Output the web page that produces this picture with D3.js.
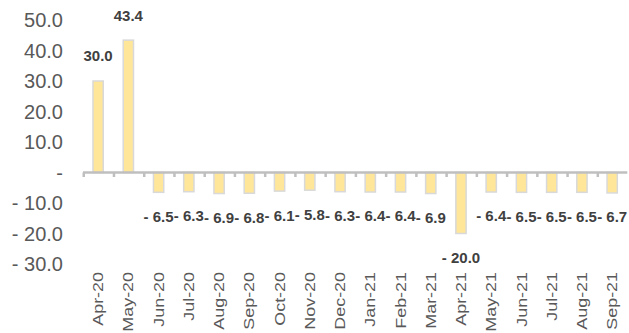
<!DOCTYPE html>
<html>
<head>
<meta charset="utf-8">
<script src="https://cdn.jsdelivr.net/npm/d3@7"></script>
<style>
  html, body { margin: 0; padding: 0; background: #fff; }
  svg { display: block; font-family: "Liberation Sans", Arial, sans-serif; }
</style>
</head>
<body>
<svg id="chart" width="629" height="333"></svg>
<script>
// Monthly growth (%) Apr-20 .. Sep-21
const categories = ["Apr-20","May-20","Jun-20","Jul-20","Aug-20","Sep-20","Oct-20","Nov-20","Dec-20",
                    "Jan-21","Feb-21","Mar-21","Apr-21","May-21","Jun-21","Jul-21","Aug-21","Sep-21"];
const values = [30.0, 43.4, -6.5, -6.3, -6.9, -6.8, -6.1, -5.8, -6.3,
                -6.4, -6.4, -6.9, -20.0, -6.4, -6.5, -6.5, -6.5, -6.7];
const yTicks = [50, 40, 30, 20, 10, 0, -10, -20, -30];

// accounting-style number format: "-" for zero, "- 6.5" for negatives
const fmt = v => v === 0 ? "-" : (v < 0 ? "- " + Math.abs(v).toFixed(1) : v.toFixed(1));

const svg = d3.select("#chart");

const x = d3.scaleBand()
  .domain(categories)
  .range([83, 627.3])
  .paddingInner(0.66)
  .paddingOuter(0.33);

const y = d3.scaleLinear()
  .domain([-30, 50])
  .range([264, 20]);

// y-axis labels (no axis line)
svg.append("g").selectAll("text")
  .data(yTicks)
  .join("text")
  .attr("x", 63)
  .attr("y", d => y(d))
  .attr("dy", "0.36em")
  .attr("text-anchor", "end")
  .attr("font-size", 20)
  .attr("fill", "#595959")
  .text(fmt);

// bars
svg.append("g").selectAll("rect")
  .data(values)
  .join("rect")
  .attr("x", (d, i) => x(categories[i]))
  .attr("width", x.bandwidth())
  .attr("y", d => Math.min(y(d), y(0)))
  .attr("height", d => Math.abs(y(d) - y(0)))
  .attr("fill", "#FFE699")
  .attr("stroke", "#D9D9D9")
  .attr("stroke-width", 1.5);

// category axis at zero with small tick marks between categories
const step = x.step();
const x0 = x.range()[0];
const axis = svg.append("g");
axis.append("line")
  .attr("x1", x0).attr("x2", x.range()[1])
  .attr("y1", y(0)).attr("y2", y(0))
  .attr("stroke", "#BFBFBF")
  .attr("stroke-width", 2.5);
axis.selectAll("rect.tick")
  .data(d3.range(categories.length))
  .join("rect")
  .attr("class", "tick")
  .attr("x", i => x0 + i * step - 0.5)
  .attr("y", y(0))
  .attr("width", 2.5)
  .attr("height", 4.5)
  .attr("fill", "#BFBFBF");

// category labels, rotated
svg.append("g").selectAll("text")
  .data(categories)
  .join("text")
  .attr("transform", d => `translate(${x(d) + x.bandwidth() / 2},272) rotate(-90) scale(1.28,1)`)
  .attr("dy", "0.36em")
  .attr("text-anchor", "end")
  .attr("font-size", 14)
  .attr("fill", "#595959")
  .text(d => d);

// value labels beyond each bar end
svg.append("g").selectAll("text")
  .data(values)
  .join("text")
  .attr("x", (d, i) => x(categories[i]) + x.bandwidth() / 2)
  .attr("y", d => d >= 0 ? y(d) - 25 : y(d) + 24)
  .attr("dy", "0.36em")
  .attr("text-anchor", "middle")
  .attr("font-size", 15)
  .attr("font-weight", "bold")
  .attr("fill", "#404040")
  .text(fmt);
</script>
</body>
</html>
